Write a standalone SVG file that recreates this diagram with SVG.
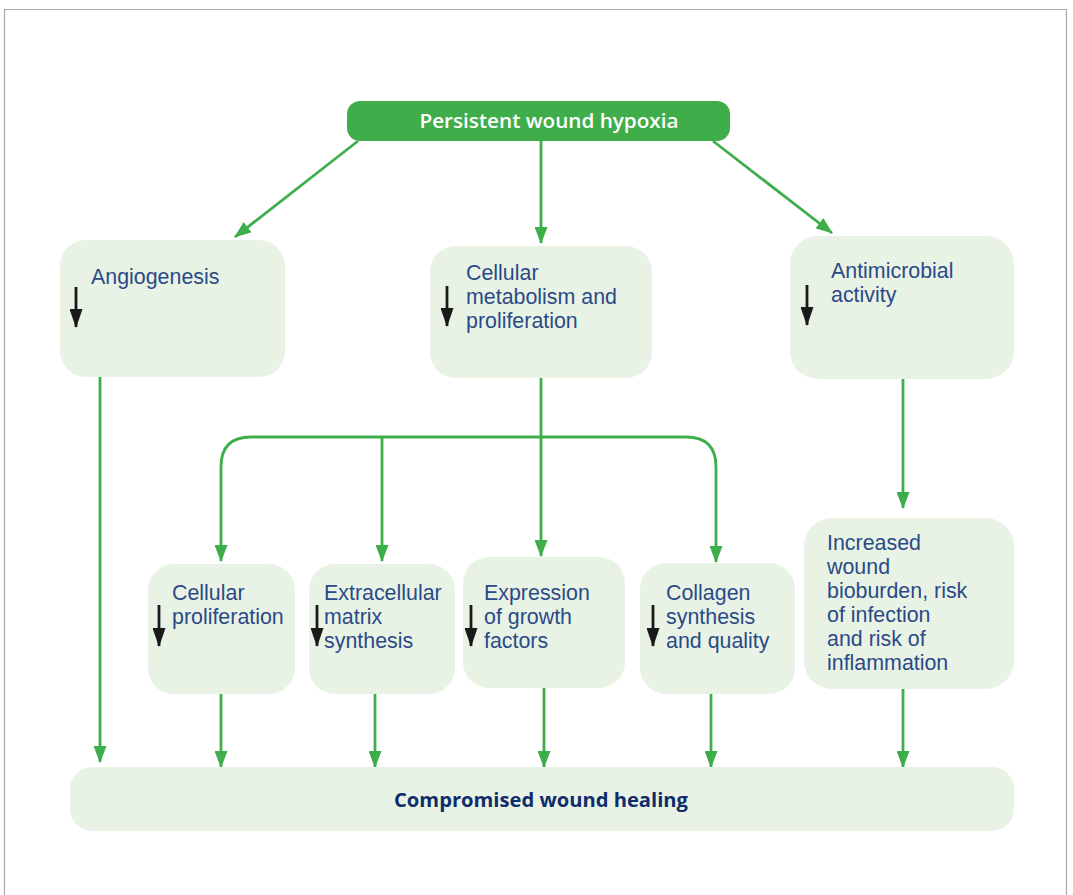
<svg xmlns="http://www.w3.org/2000/svg" width="1073" height="895" viewBox="0 0 1073 895">
<defs>
<style>
.box{fill:#e8f3e6;}
.t{font-family:"Liberation Sans","Open Sans",sans-serif;font-size:21.4px;fill:#2b4a86;}
.c{fill:none;stroke:#3dae4a;stroke-width:2.8;}
.dn{stroke:#1a1a1a;stroke-width:2.8;fill:none;}
</style>
<marker id="ga" viewBox="0 0 17 13" refX="16" refY="6.5" markerWidth="17" markerHeight="13" markerUnits="userSpaceOnUse" orient="auto">
<path d="M0,0 L17,6.5 L0,13 Z" fill="#3dae4a"/>
</marker>
<marker id="ba" viewBox="0 0 19 13" refX="18" refY="6.5" markerWidth="19" markerHeight="13" markerUnits="userSpaceOnUse" orient="auto">
<path d="M0,0 L19,6.5 L0,13 Z" fill="#1a1a1a"/>
</marker>
</defs>
<rect width="1073" height="895" fill="#ffffff"/>
<path d="M4.5,895 V9.5 H1066.5 V895" fill="none" stroke="#a8a8a8" stroke-width="1.2"/>

<g id="connectors">
<path class="c" d="M358,141 L235,237" marker-end="url(#ga)"/>
<path class="c" d="M541,141 L541,243" marker-end="url(#ga)"/>
<path class="c" d="M713,141 L832,233" marker-end="url(#ga)"/>
<path class="c" d="M541,378 L541,556" marker-end="url(#ga)"/>
<path class="c" d="M382,437 L382,561" marker-end="url(#ga)"/>
<path class="c" d="M541,437 L251,437 Q221,437 221,467 L221,561" marker-end="url(#ga)"/>
<path class="c" d="M541,437 L686,437 Q716,437 716,467 L716,562" marker-end="url(#ga)"/>
<path class="c" d="M903,378 L903,508" marker-end="url(#ga)"/>
<path class="c" d="M100,377 L100,762" marker-end="url(#ga)"/>
<path class="c" d="M221,694 L221,767" marker-end="url(#ga)"/>
<path class="c" d="M375,694 L375,767" marker-end="url(#ga)"/>
<path class="c" d="M544,688 L544,767" marker-end="url(#ga)"/>
<path class="c" d="M711,694 L711,767" marker-end="url(#ga)"/>
<path class="c" d="M903,689 L903,767" marker-end="url(#ga)"/>
</g>

<g id="hypoxia">
<rect x="347" y="101" width="383" height="40" rx="13" fill="#3fae4a"/>
<text x="549" y="127.5" text-anchor="middle" font-family="'Open Sans','Liberation Sans',sans-serif" font-size="20" font-weight="600" fill="#ffffff" textLength="259" lengthAdjust="spacingAndGlyphs">Persistent wound hypoxia</text>
</g>

<g id="angiogenesis">
<rect class="box" x="60" y="240" width="225" height="137" rx="26"/>
<text class="t" x="91" y="284">Angiogenesis</text>
<path class="dn" d="M76,287 V327" marker-end="url(#ba)"/>
</g>

<g id="metabolism">
<rect class="box" x="430" y="246" width="222" height="132" rx="26"/>
<text class="t" x="466" y="280">Cellular</text>
<text class="t" x="466" y="304">metabolism and</text>
<text class="t" x="466" y="328">proliferation</text>
<path class="dn" d="M447,286 V326" marker-end="url(#ba)"/>
</g>

<g id="antimicrobial">
<rect class="box" x="790" y="236" width="224" height="143" rx="28"/>
<text class="t" x="831" y="278">Antimicrobial</text>
<text class="t" x="831" y="302">activity</text>
<path class="dn" d="M807,285 V325" marker-end="url(#ba)"/>
</g>

<g id="cellprolif">
<rect class="box" x="148" y="564" width="147" height="130" rx="26"/>
<text class="t" x="172" y="600">Cellular</text>
<text class="t" x="172" y="624">proliferation</text>
<path class="dn" d="M159,605 V646" marker-end="url(#ba)"/>
</g>

<g id="ecm">
<rect class="box" x="309" y="564" width="146" height="130" rx="26"/>
<text class="t" x="324" y="600">Extracellular</text>
<text class="t" x="324" y="624">matrix</text>
<text class="t" x="324" y="648">synthesis</text>
<path class="dn" d="M317,605 V646" marker-end="url(#ba)"/>
</g>

<g id="growth">
<rect class="box" x="463" y="557" width="162" height="131" rx="26"/>
<text class="t" x="484" y="600">Expression</text>
<text class="t" x="484" y="624">of growth</text>
<text class="t" x="484" y="648">factors</text>
<path class="dn" d="M471,605 V646" marker-end="url(#ba)"/>
</g>

<g id="collagen">
<rect class="box" x="640" y="563" width="155" height="131" rx="26"/>
<text class="t" x="666" y="600">Collagen</text>
<text class="t" x="666" y="624">synthesis</text>
<text class="t" x="666" y="648">and quality</text>
<path class="dn" d="M653,605 V646" marker-end="url(#ba)"/>
</g>

<g id="bioburden">
<rect class="box" x="804" y="518" width="210" height="171" rx="28"/>
<text class="t" x="827" y="550">Increased</text>
<text class="t" x="827" y="574">wound</text>
<text class="t" x="827" y="598">bioburden, risk</text>
<text class="t" x="827" y="622">of infection</text>
<text class="t" x="827" y="646">and risk of</text>
<text class="t" x="827" y="670">inflammation</text>
</g>

<g id="healing">
<rect class="box" x="70" y="767" width="944" height="64" rx="22"/>
<text x="541" y="807" text-anchor="middle" font-family="'Open Sans','Liberation Sans',sans-serif" font-size="20" font-weight="700" fill="#0f2d6c" textLength="294" lengthAdjust="spacingAndGlyphs">Compromised wound healing</text>
</g>
</svg>
